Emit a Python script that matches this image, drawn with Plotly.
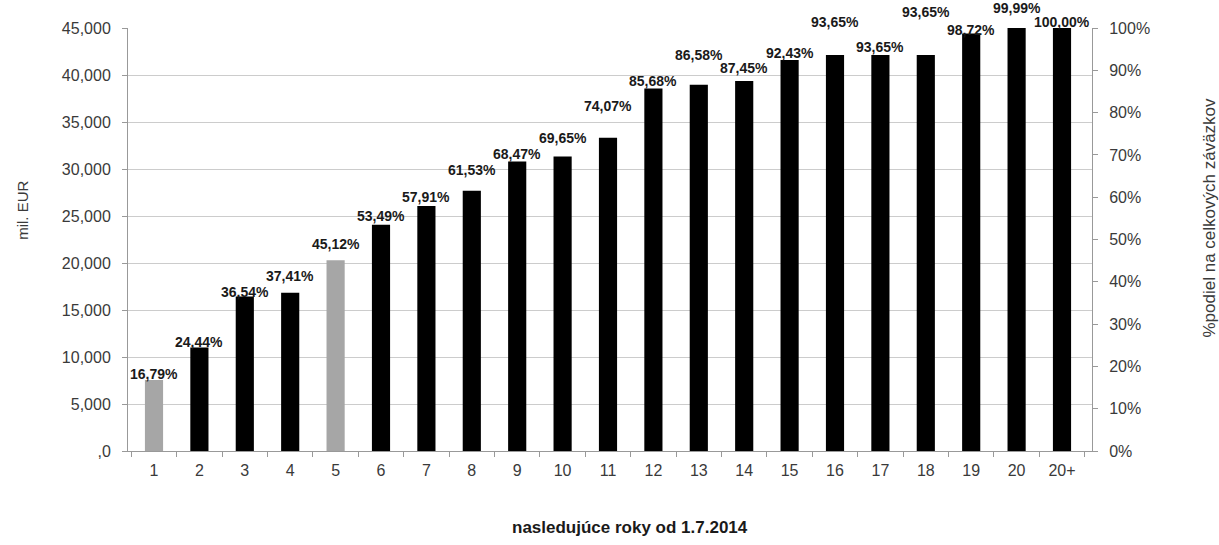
import plotly.graph_objects as go

categories = ["1", "2", "3", "4", "5", "6", "7", "8", "9", "10", "11",
              "12", "13", "14", "15", "16", "17", "18", "19", "20", "20+"]
amounts = [7555, 11000, 16445, 16835, 20305, 24070, 26060, 27690, 30810, 31340,
           33330, 38555, 38960, 39350, 41595, 42140, 42140, 42140, 44425, 44995, 45000]
share_labels = ["16,79%", "24,44%", "36,54%", "37,41%", "45,12%", "53,49%", "57,91%",
                "61,53%", "68,47%", "69,65%", "74,07%", "85,68%", "86,58%", "87,45%",
                "92,43%", "93,65%", "93,65%", "93,65%", "98,72%", "99,99%", "100,00%"]
gray_bars = ["1", "5"]

left_tickvals = [0, 5000, 10000, 15000, 20000, 25000, 30000, 35000, 40000, 45000]
left_ticktext = [",0", "5,000", "10,000", "15,000", "20,000", "25,000", "30,000",
                 "35,000", "40,000", "45,000"]
right_tickvals = [0, 0.1, 0.2, 0.3, 0.4, 0.5, 0.6, 0.7, 0.8, 0.9, 1.0]
right_ticktext = ["0%", "10%", "20%", "30%", "40%", "50%", "60%", "70%", "80%", "90%", "100%"]

# style: label offsets above bar tops (pixels)
label_shift = [6, 6, 4, 17, 16, 9, 9, 21, 7, 18, 32, 8, 30, 13, 7, 33, 8, 43, 3, 20, 6]

colors = ["#a6a6a6" if c in gray_bars else "#000000" for c in categories]

fig = go.Figure()
fig.add_trace(go.Bar(x=categories, y=amounts, marker=dict(color=colors, line=dict(width=0)),
                     showlegend=False, hoverinfo="x+y"))
fig.add_trace(go.Scatter(x=categories, y=[None] * len(categories), yaxis="y2",
                         showlegend=False, hoverinfo="skip"))

for i, (a, t, s) in enumerate(zip(amounts, share_labels, label_shift)):
    fig.add_annotation(x=i, y=a, text="<b>" + t + "</b>", showarrow=False,
                       yanchor="middle", yshift=s,
                       font=dict(family="Liberation Sans, Arial", size=14, color="#1a1a1a"))

tickfont = dict(family="Liberation Sans, Arial", size=16, color="#3a3a3a")

fig.update_layout(
    width=1219, height=545,
    margin=dict(l=128, r=127, t=28, b=94),
    paper_bgcolor="white", plot_bgcolor="white",
    bargap=0.6,
    xaxis=dict(type="category", tickson="boundaries", ticks="outside", ticklen=5,
               tickcolor="#999999", showline=True, linecolor="#999999", linewidth=1,
               tickfont=tickfont, showgrid=False, ticklabelstandoff=5),
    yaxis=dict(range=[0, 45000], tickvals=left_tickvals, ticktext=left_ticktext,
               ticks="outside", ticklen=5, tickcolor="#999999", showline=True,
               linecolor="#999999", gridcolor="#cccccc", tickfont=tickfont,
               zeroline=False, ticklabelstandoff=8),
    yaxis2=dict(range=[0, 1], overlaying="y", side="right", tickvals=right_tickvals,
                ticktext=right_ticktext, ticks="outside", ticklen=5, tickcolor="#999999",
                showline=True, linecolor="#999999", showgrid=False, tickfont=tickfont,
                zeroline=False, ticklabelstandoff=8),
)

fig.add_annotation(xref="paper", yref="paper", x=0.521, y=-0.182, yanchor="middle",
                   text="<b>nasledujúce roky od 1.7.2014</b>", showarrow=False,
                   font=dict(family="Liberation Sans, Arial", size=17, color="#1a1a1a"))
fig.add_annotation(xref="paper", yref="paper", x=-0.109, y=0.570, xanchor="center",
                   yanchor="middle", text="mil. EUR", textangle=-90, showarrow=False,
                   font=dict(family="Liberation Sans, Arial", size=15, color="#3a3a3a"))
fig.add_annotation(xref="paper", yref="paper", x=1.122, y=0.551, xanchor="center",
                   yanchor="middle", text="%podiel na celkových záväzkov", textangle=-90,
                   showarrow=False,
                   font=dict(family="Liberation Sans, Arial", size=17, color="#3a3a3a"))

fig.write_html("out.html", config={"displayModeBar": False},
               post_script="document.body.style.margin='0';")
